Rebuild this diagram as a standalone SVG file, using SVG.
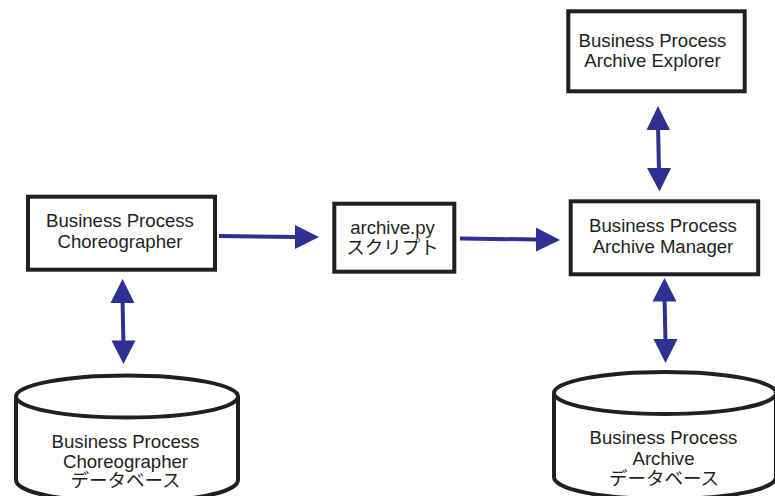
<svg xmlns="http://www.w3.org/2000/svg" width="775" height="496" viewBox="0 0 775 496">
<style>
.box{fill:#fff;stroke:#231f20;stroke-width:4}
.cyl{fill:#fff;stroke:#231f20;stroke-width:4}
.line{fill:none;stroke:#2e3192;stroke-width:4}
.head{fill:#2e3192}
text{font-family:"Liberation Sans","Noto Sans CJK JP",sans-serif;font-size:18.600px;fill:#231f20;text-anchor:middle}
.jp{font-family:"Noto Sans CJK JP",sans-serif;font-size:18.500px}
</style>
<rect width="775" height="496" fill="#fff"/>
<g id="connectors">
<path class="line" d="M219 236L296 237"/><path class="head" d="M295 225L319 237L295 249Z"/>
<path class="line" d="M460 238.500L537 239.500"/><path class="head" d="M536 227.500L560 240L536 251.500Z"/>
<path class="line" d="M122.500 300L123.500 345"/><path class="head" d="M122.500 279L134.500 303L110.500 303Z"/><path class="head" d="M123.500 364L111.500 340.500L135.500 340.500Z"/>
<path class="line" d="M658 125L659 171"/><path class="head" d="M658 106L670 130L646.500 130Z"/><path class="head" d="M659.500 191.500L647 168L671 168Z"/>
<path class="line" d="M664.500 298L665.500 342"/><path class="head" d="M664.500 278L676.500 301.500L652.500 301.500Z"/><path class="head" d="M665.500 363L653.500 339L677.500 339Z"/>
</g>
<g id="choreographer">
<rect class="box" x="28" y="196.700" width="187" height="73"/>
<text x="120" y="227">Business Process</text>
<text x="120" y="248">Choreographer</text>
</g>
<g id="script">
<rect class="box" x="334.300" y="203.700" width="120" height="68"/>
<text x="392.500" y="234">archive.py</text>
<text class="jp" x="392.500" y="254">スクリプト</text>
</g>
<g id="manager">
<rect class="box" x="570.700" y="201.300" width="187.500" height="73"/>
<text x="663" y="232">Business Process</text>
<text x="663" y="253">Archive Manager</text>
</g>
<g id="explorer">
<rect class="box" x="568.300" y="11.300" width="176.400" height="80"/>
<text x="652.500" y="47">Business Process</text>
<text x="652.500" y="67">Archive Explorer</text>
</g>
<g id="choreographer-db">
<path class="cyl" d="M16 396.500V480C16 493 66 502 127 502S238 493 238 480V396.500"/>
<ellipse class="cyl" cx="127" cy="396.500" rx="111" ry="21"/>
<text x="125.500" y="448">Business Process</text>
<text x="125.500" y="468">Choreographer</text>
<text class="jp" x="125.500" y="487">データベース</text>
</g>
<g id="archive-db">
<path class="cyl" d="M554 393V477C554 490 604 499 665 499S776 490 776 477V393"/>
<ellipse class="cyl" cx="665" cy="393" rx="111" ry="21"/>
<text x="663.500" y="444">Business Process</text>
<text x="663.500" y="465">Archive</text>
<text class="jp" x="664" y="485">データベース</text>
</g>
</svg>
